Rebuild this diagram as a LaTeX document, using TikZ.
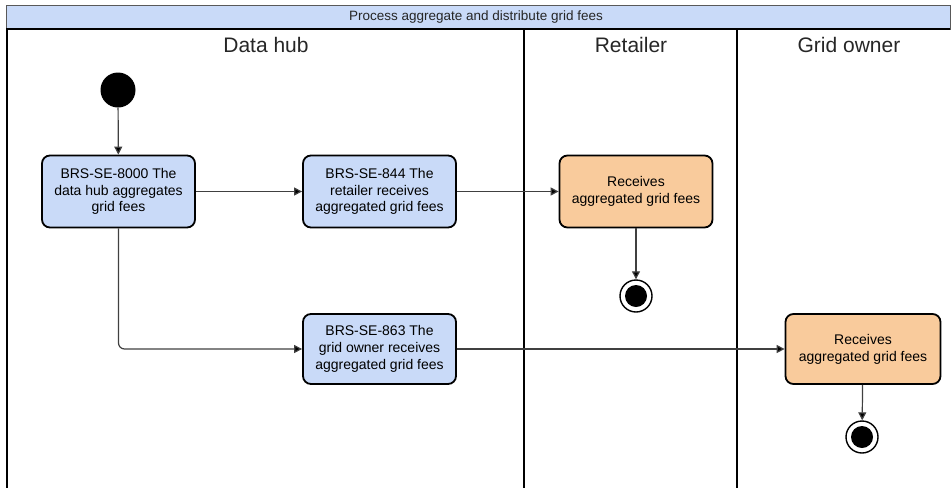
\documentclass[tikz,border=0pt]{standalone}
\usepackage{fontspec}
\setmainfont{Liberation Sans}
\usetikzlibrary{positioning, calc, arrows.meta}
\definecolor{hubblue}{HTML}{C9DAF8}
\definecolor{recvorange}{HTML}{F9CB9C}

\begin{document}
\begin{tikzpicture}[x=1pt, y=-1pt]
\tikzset{hubstep/.style={
    rectangle, rounded corners=8pt, draw=black, line width=1.8pt, fill=hubblue, align=center,
    minimum width=153pt, minimum height=72pt, inner sep=2pt, font=\fontsize{14}{16.8}\selectfont},
    recvstep/.style={
    hubstep, fill=recvorange},
    lanetitle/.style={anchor=base, font=\fontsize{21}{25}\selectfont, text=black!85},
    startstate/.style={circle, fill=black, minimum size=35pt, inner sep=0pt},
    endstate/.style={circle, draw=black, line width=1.4pt, fill=white, minimum size=32pt, inner sep=0pt,
    path picture={\fill[black] (path picture bounding box.center) circle (11pt);}},
    flow/.style={draw=black!75, line width=1.2pt, -{Triangle[length=8pt, width=8pt, fill=black]}}
}
    \useasboundingbox (0,0) rectangle (951,488);

    % pool and lanes
    \draw[draw=black!65, line width=1pt, fill=hubblue] (6,5) rectangle (950,29);
    \node[font=\fontsize{13.5}{15}\selectfont, text=black!85] (pool_title) at (476,17) {Process aggregate and distribute grid fees};
    \draw[line width=2pt] (6,29) -- (950,29);
    \draw[line width=2pt] (7,29) -- (7,488);
    \draw[line width=2pt] (524,29) -- (524,488);
    \draw[line width=2pt] (737,29) -- (737,488);

    \node[lanetitle] (lane_hub) at (266,52) {Data hub};
    \node[lanetitle] (lane_ret) at (631,52) {Retailer};
    \node[lanetitle] (lane_own) at (849,52) {Grid owner};

    % states
    \node[startstate] (start) at (118,90) {};
    \node[hubstep] (hub_1) at (118.5,191.5) {BRS-SE-8000 The\\data hub aggregates\\grid fees};
    \node[hubstep] (hub_2) at (379.5,191.5) {BRS-SE-844 The\\retailer receives\\aggregated grid fees};
    \node[recvstep] (ret_1) at (636,191.5) {Receives\\aggregated grid fees};
    \node[endstate] (end_r) at (636,296) {};
    \node[hubstep, minimum height=70pt] (hub_3) at (379.5,349) {BRS-SE-863 The\\grid owner receives\\aggregated grid fees};
    \node[recvstep, minimum height=70pt, minimum width=155pt] (own_1) at (863,349) {Receives\\aggregated grid fees};
    \node[endstate] (end_o) at (862,437) {};

    % flows
    \draw[flow] (start) -- (hub_1);
    \draw[flow] (hub_1) -- (hub_2);
    \draw[flow] (hub_2) -- (ret_1);
    \draw[flow] (ret_1) -- (end_r);
    \draw[flow, rounded corners=6pt] (hub_1.south) |- (hub_3.west);
    \draw[flow] (hub_3) -- (own_1);
    \draw[flow] (own_1) -- (end_o);

\end{tikzpicture}
\end{document}
